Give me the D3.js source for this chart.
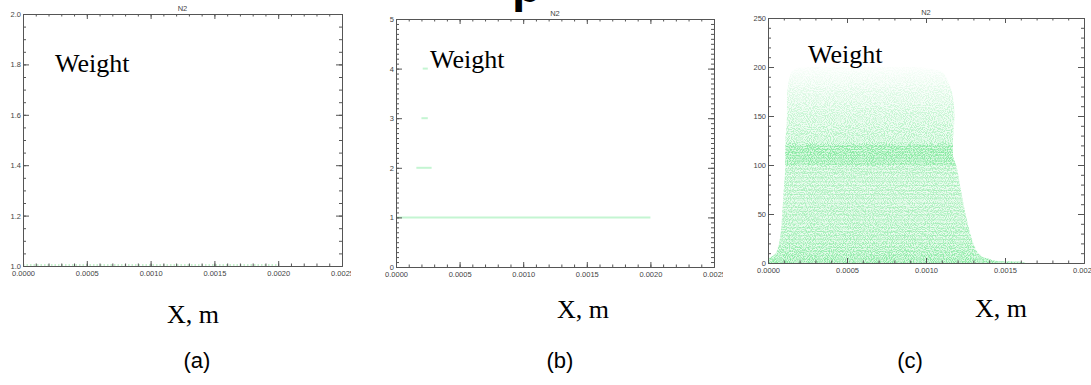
<!DOCTYPE html>
<html>
<head>
<meta charset="utf-8">
<script src="https://cdn.jsdelivr.net/npm/d3@7"></script>
<style>
  body { margin: 0; background: #fff; }
  svg { display: block; }
  .tick text { font-family: "Liberation Sans", Arial, sans-serif; font-size: 7.5px; fill: #444; }
  .axis path, .axis line { stroke: #555; stroke-width: 1; }
</style>
</head>
<body>
<div id="chart"></div>
<script>
// ---- data ----
const xTicksWide = [0, 0.0005, 0.0010, 0.0015, 0.0020, 0.0025];
const xTicksNarrow = [0, 0.0005, 0.0010, 0.0015, 0.0020];
const aYTicks = [1.0, 1.2, 1.4, 1.6, 1.8, 2.0];
const bYTicks = [0, 1, 2, 3, 4, 5];
const cYTicks = [0, 50, 100, 150, 200, 250];

// (a) every particle has weight 1
const aWeight = [1];
const aStart = [0];
const aEnd = [0.0020];

// (b) weight levels and their x extent
const bWeight = [1, 2, 3, 4];
const bStart = [0, 0.00016, 0.00020, 0.00021];
const bEnd = [0.0020, 0.00028, 0.00025, 0.00025];

// (c) particle cloud: outline (weight -> left / right x) ...
const cEnvW     = [0, 1, 2, 4, 6, 10, 20, 30, 50, 75, 100, 110, 122, 150, 170, 185, 195, 200];
const cEnvLeft  = [0, 0, 0, 0, 0.00002, 0.00005, 0.00007, 0.00008, 0.00009, 0.00010, 0.00011, 0.00011,
                   0.00011, 0.00012, 0.00012, 0.00013, 0.00015, 0.00020];
const cEnvRight = [0.00163, 0.00160, 0.00145, 0.00140, 0.00136, 0.00133, 0.00130, 0.00128, 0.00125, 0.00122,
                   0.00119, 0.00117, 0.00117, 0.00118, 0.00117, 0.00114, 0.00110, 0.00095];
// ... and how densely it is filled at each weight
const cDensW = [0, 3, 10, 30, 60, 98, 101, 120, 124, 150, 170, 185, 200];
const cDens  = [1.0, 0.9, 0.75, 0.6, 0.52, 0.52, 0.85, 0.85, 0.55, 0.4, 0.25, 0.14, 0.03];
// visible horizontal streaks in (c)
const cStreaks = [1, 4, 8, 12, 16, 20, 24, 28, 32, 36, 40, 44, 49, 53, 57, 61, 66, 70, 74, 79, 83, 87, 92, 96,
                  101, 104, 107, 110, 113, 116, 119];

const W = 1091, H = 385;
const svg = d3.select("#chart").append("svg").attr("width", W).attr("height", H);

const defs = svg.append("defs");
const f = defs.append("filter").attr("id", "speckle")
  .attr("filterUnits", "userSpaceOnUse").attr("x", 760).attr("y", 10).attr("width", 330).attr("height", 260);
f.append("feTurbulence").attr("type", "fractalNoise").attr("baseFrequency", 0.95)
  .attr("numOctaves", 1).attr("seed", 7).attr("result", "n");
f.append("feColorMatrix").attr("in", "n").attr("type", "matrix")
  .attr("values", "0 0 0 0 0  0 0 0 0 0  0 0 0 0 0  6 0 0 0 -2.6").attr("result", "m");
f.append("feComposite").attr("in", "SourceGraphic").attr("in2", "m").attr("operator", "in");

const panels = [
  { id: "a", left: 23, top: 14, right: 342, bottom: 266, clip: 351,
    xDom: [0, 0.0025], xTicks: xTicksWide, xMinor: 0.0001,
    yDom: [1, 2], yTicks: aYTicks, yMinor: 0.05, yFmt: d3.format(".1f"),
    weight: [55, 72], xlab: [167, 323], tag: 197 },
  { id: "b", left: 396, top: 19, right: 714, bottom: 267, clip: 723,
    xDom: [0, 0.0025], xTicks: xTicksWide, xMinor: 0.0001,
    yDom: [0, 5], yTicks: bYTicks, yMinor: 0.1, yFmt: d3.format("d"),
    weight: [430, 68], xlab: [557, 318], tag: 560 },
  { id: "c", left: 768, top: 18, right: 1084, bottom: 263, clip: 1091,
    xDom: [0, 0.0020], xTicks: xTicksNarrow, xMinor: 0.0001,
    yDom: [0, 250], yTicks: cYTicks, yMinor: 10, yFmt: d3.format("d"),
    weight: [808, 63], xlab: [975, 317], tag: 910 }
];

panels.forEach(p => {
  defs.append("clipPath").attr("id", "clip-" + p.id)
    .append("rect").attr("x", p.left - 30).attr("y", 0).attr("width", p.clip - p.left + 30).attr("height", H);

  const g = svg.append("g").attr("clip-path", `url(#clip-${p.id})`);
  const x = d3.scaleLinear().domain(p.xDom).range([p.left, p.right]);
  const y = d3.scaleLinear().domain(p.yDom).range([p.bottom, p.top]);

  const plotH = p.bottom - p.top, plotW = p.right - p.left;
  const xt = Math.round(plotH * 0.02), yt = Math.round(plotW * 0.02);
  const xMinorVals = d3.range(p.xDom[0], p.xDom[1] + 1e-9, p.xMinor);
  const yMinorVals = d3.range(p.yDom[0], p.yDom[1] + 1e-9, p.yMinor);

  // marks
  const marks = g.append("g");
  if (p.id === "a") {
    marks.selectAll("line").data(aWeight).join("line")
      .attr("x1", (d, i) => x(aStart[i])).attr("x2", (d, i) => x(aEnd[i]))
      .attr("y1", d => y(d) - 1).attr("y2", d => y(d) - 1)
      .attr("stroke", "#8de39c").attr("stroke-width", 1.2).attr("stroke-dasharray", "1.5,2");
  } else if (p.id === "b") {
    marks.selectAll("line").data(bWeight).join("line")
      .attr("x1", (d, i) => x(bStart[i])).attr("x2", (d, i) => x(bEnd[i]))
      .attr("y1", d => y(d)).attr("y2", d => y(d))
      .attr("stroke", "#c4f5d2").attr("stroke-width", 2);
  } else {
    // vertical density gradient
    const grad = defs.append("linearGradient").attr("id", "cdens")
      .attr("gradientUnits", "userSpaceOnUse")
      .attr("x1", 0).attr("x2", 0).attr("y1", y(0)).attr("y2", y(200));
    grad.selectAll("stop").data(cDensW).join("stop")
      .attr("offset", d => d / 200).attr("stop-color", "#86eaa0")
      .attr("stop-opacity", (d, i) => cDens[i]);
    const gradSoft = defs.append("linearGradient").attr("id", "cdensSoft")
      .attr("gradientUnits", "userSpaceOnUse")
      .attr("x1", 0).attr("x2", 0).attr("y1", y(0)).attr("y2", y(200));
    gradSoft.selectAll("stop").data(cDensW).join("stop")
      .attr("offset", d => d / 200).attr("stop-color", "#cdf7d8")
      .attr("stop-opacity", (d, i) => cDens[i] * 0.7);

    const area = d3.area()
      .y(d => y(d))
      .x0((d, i) => x(cEnvLeft[i]))
      .x1((d, i) => x(cEnvRight[i]))
      .curve(d3.curveMonotoneY);

    marks.append("path").datum(cEnvW).attr("d", area).attr("fill", "url(#cdensSoft)");
    marks.append("g").attr("filter", "url(#speckle)")
      .append("path").datum(cEnvW).attr("d", area).attr("fill", "url(#cdens)");

    const edgeAt = (arr, w) => {
      const i = d3.bisectRight(cEnvW, w) - 1;
      const j = Math.min(i + 1, cEnvW.length - 1);
      const t = j === i ? 0 : (w - cEnvW[i]) / (cEnvW[j] - cEnvW[i]);
      return arr[i] + t * (arr[j] - arr[i]);
    };
    marks.selectAll("line").data(cStreaks).join("line")
      .attr("x1", d => x(edgeAt(cEnvLeft, d))).attr("x2", d => x(edgeAt(cEnvRight, d)))
      .attr("y1", d => y(d)).attr("y2", d => y(d))
      .attr("stroke", "#78e495").attr("stroke-width", 1)
      .attr("stroke-opacity", d => d > 100 ? 0.45 : 0.28);
  }

  // axes: IDL-style box with inward ticks
  const ax = (axis, tr) => g.append("g").attr("class", "axis").attr("transform", tr).call(axis);
  const minorX = (gen) => gen(x).tickValues(xMinorVals).tickSize(-xt / 2).tickFormat("");
  const minorY = (gen) => gen(y).tickValues(yMinorVals).tickSize(-yt / 2).tickFormat("");

  ax(minorX(d3.axisBottom).tickSizeOuter(0), `translate(0,${p.bottom})`);
  ax(minorX(d3.axisTop).tickSizeOuter(0), `translate(0,${p.top})`);
  ax(minorY(d3.axisLeft).tickSizeOuter(0), `translate(${p.left},0)`);
  ax(minorY(d3.axisRight).tickSizeOuter(0), `translate(${p.right},0)`);

  ax(d3.axisBottom(x).tickValues(p.xTicks).tickSize(-xt).tickSizeOuter(0).tickPadding(5)
      .tickFormat(d3.format(".4f")), `translate(0,${p.bottom})`);
  ax(d3.axisTop(x).tickValues(p.xTicks).tickSize(-xt).tickSizeOuter(0).tickFormat(""), `translate(0,${p.top})`);
  ax(d3.axisLeft(y).tickValues(p.yTicks).tickSize(-yt).tickSizeOuter(0).tickPadding(2)
      .tickFormat(p.yFmt), `translate(${p.left},0)`);
  ax(d3.axisRight(y).tickValues(p.yTicks).tickSize(-yt).tickSizeOuter(0).tickFormat(""), `translate(${p.right},0)`);

  // title
  g.append("text").attr("x", (p.left + p.right) / 2).attr("y", p.top - 3)
    .attr("text-anchor", "middle").attr("font-family", "Liberation Sans, Arial, sans-serif")
    .attr("font-size", 7.5).attr("fill", "#444").text("N2");

  svg.append("text").attr("x", p.weight[0]).attr("y", p.weight[1])
    .attr("font-family", "Liberation Serif, Times New Roman, serif").attr("font-size", 26)
    .attr("fill", "#000").text("Weight");
  svg.append("text").attr("x", p.xlab[0]).attr("y", p.xlab[1])
    .attr("font-family", "Liberation Serif, Times New Roman, serif").attr("font-size", 26)
    .attr("fill", "#000").text("X, m");
  svg.append("text").attr("x", p.tag).attr("y", 368).attr("text-anchor", "middle")
    .attr("font-family", "Liberation Sans, Arial, sans-serif").attr("font-size", 22)
    .attr("fill", "#000").text(`(${p.id})`);
});

// descender of the cropped-off heading at the very top
svg.append("text").attr("x", 512).attr("y", 2)
  .attr("font-family", "Liberation Sans, Arial, sans-serif").attr("font-weight", "bold")
  .attr("font-size", 48).attr("fill", "#000").text("p");
</script>
</body>
</html>
